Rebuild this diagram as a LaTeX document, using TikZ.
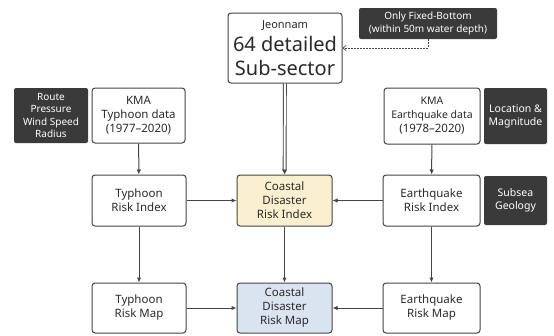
\documentclass[tikz,border=0pt]{standalone}
\usepackage{fontspec}
\setmainfont{Noto Sans}
\usetikzlibrary{arrows.meta}
\definecolor{ln}{HTML}{444444}
\definecolor{tx}{HTML}{2A2A2A}
\definecolor{dk}{HTML}{3A3A3A}
\definecolor{yel}{HTML}{FAF0D0}
\definecolor{blu}{HTML}{DAE3F0}
\begin{document}
\begin{tikzpicture}[x=1pt,y=-1pt,
  box/.style={draw=ln, line width=1pt, rounded corners=3pt, fill=white, align=center,
    text=tx, inner sep=0pt, font=\fontsize{11.5}{14}\selectfont},
  dbox/.style={fill=dk, rounded corners=2pt, align=center, text=white, inner sep=0pt,
    font=\fontsize{10}{12.5}\selectfont},
  arr/.style={draw=ln, line width=1pt, -{Latex[length=5pt,width=4.5pt]}}
]
\useasboundingbox (0,0) rectangle (554,335);
\node[box, minimum width=114pt, minimum height=70pt, font=\fontsize{20}{23.5}\selectfont] (jn) at (285,48)
  {\fontsize{11}{23.5}\selectfont Jeonnam\\64 detailed\\Sub-sector};
\node[dbox, minimum width=138pt, minimum height=31pt] (fx) at (428,23.5)
  {Only Fixed-Bottom\\(within 50m water depth)};
\node[dbox, minimum width=74pt, minimum height=55pt] (rt) at (51,115.5)
  {Route\\Pressure\\Wind Speed\\Radius};
\node[box, minimum width=93pt, minimum height=55pt] (kt) at (138.5,115.5)
  {KMA\\Typhoon data\\(1977--2020)};
\node[box, minimum width=96pt, minimum height=56pt, font=\fontsize{10.5}{14}\selectfont] (ke) at (432,116)
  {KMA\\Earthquake data\\\fontsize{11.5}{14}\selectfont (1978--2020)};
\node[dbox, minimum width=63pt, minimum height=56pt, font=\fontsize{10.5}{13}\selectfont] (lc) at (515.5,116)
  {Location \&\\Magnitude};
\node[box, minimum width=94pt, minimum height=51pt] (tri) at (139,200.5)
  {Typhoon\\Risk Index};
\node[box, fill=yel, minimum width=95pt, minimum height=51pt] (cri) at (284.5,200.5)
  {Coastal\\Disaster\\Risk Index};
\node[box, minimum width=97pt, minimum height=51pt] (eri) at (431.5,200.5)
  {Earthquake\\Risk Index};
\node[dbox, minimum width=63pt, minimum height=49pt, font=\fontsize{10.5}{13}\selectfont] (sg) at (515.5,200.5)
  {Subsea\\Geology};
\node[box, minimum width=94pt, minimum height=50pt] (trm) at (139,308)
  {Typhoon\\Risk Map};
\node[box, fill=blu, minimum width=95pt, minimum height=50pt] (crm) at (284.5,308)
  {Coastal\\Disaster\\Risk Map};
\node[box, minimum width=97pt, minimum height=50pt] (erm) at (431.5,308)
  {Earthquake\\Risk Map};
\draw[arr] (kt) -- (tri);
\draw[arr] (ke) -- (eri);
\draw[arr] (tri) -- (cri);
\draw[arr] (eri) -- (cri);
\draw[arr] (tri) -- (trm);
\draw[arr] (cri) -- (crm);
\draw[arr] (eri) -- (erm);
\draw[arr] (trm) -- (crm);
\draw[arr] (erm) -- (crm);
\draw[draw=ln, line width=0.9pt, double distance=2pt, -{Latex[length=5pt,width=5.5pt]}] (jn) -- (cri);
\draw[draw=ln, line width=0.7pt, dash pattern=on 2pt off 1pt, -{Straight Barb[length=3pt,width=5pt]}] (fx.south) |- (jn.east);
\end{tikzpicture}
\end{document}
